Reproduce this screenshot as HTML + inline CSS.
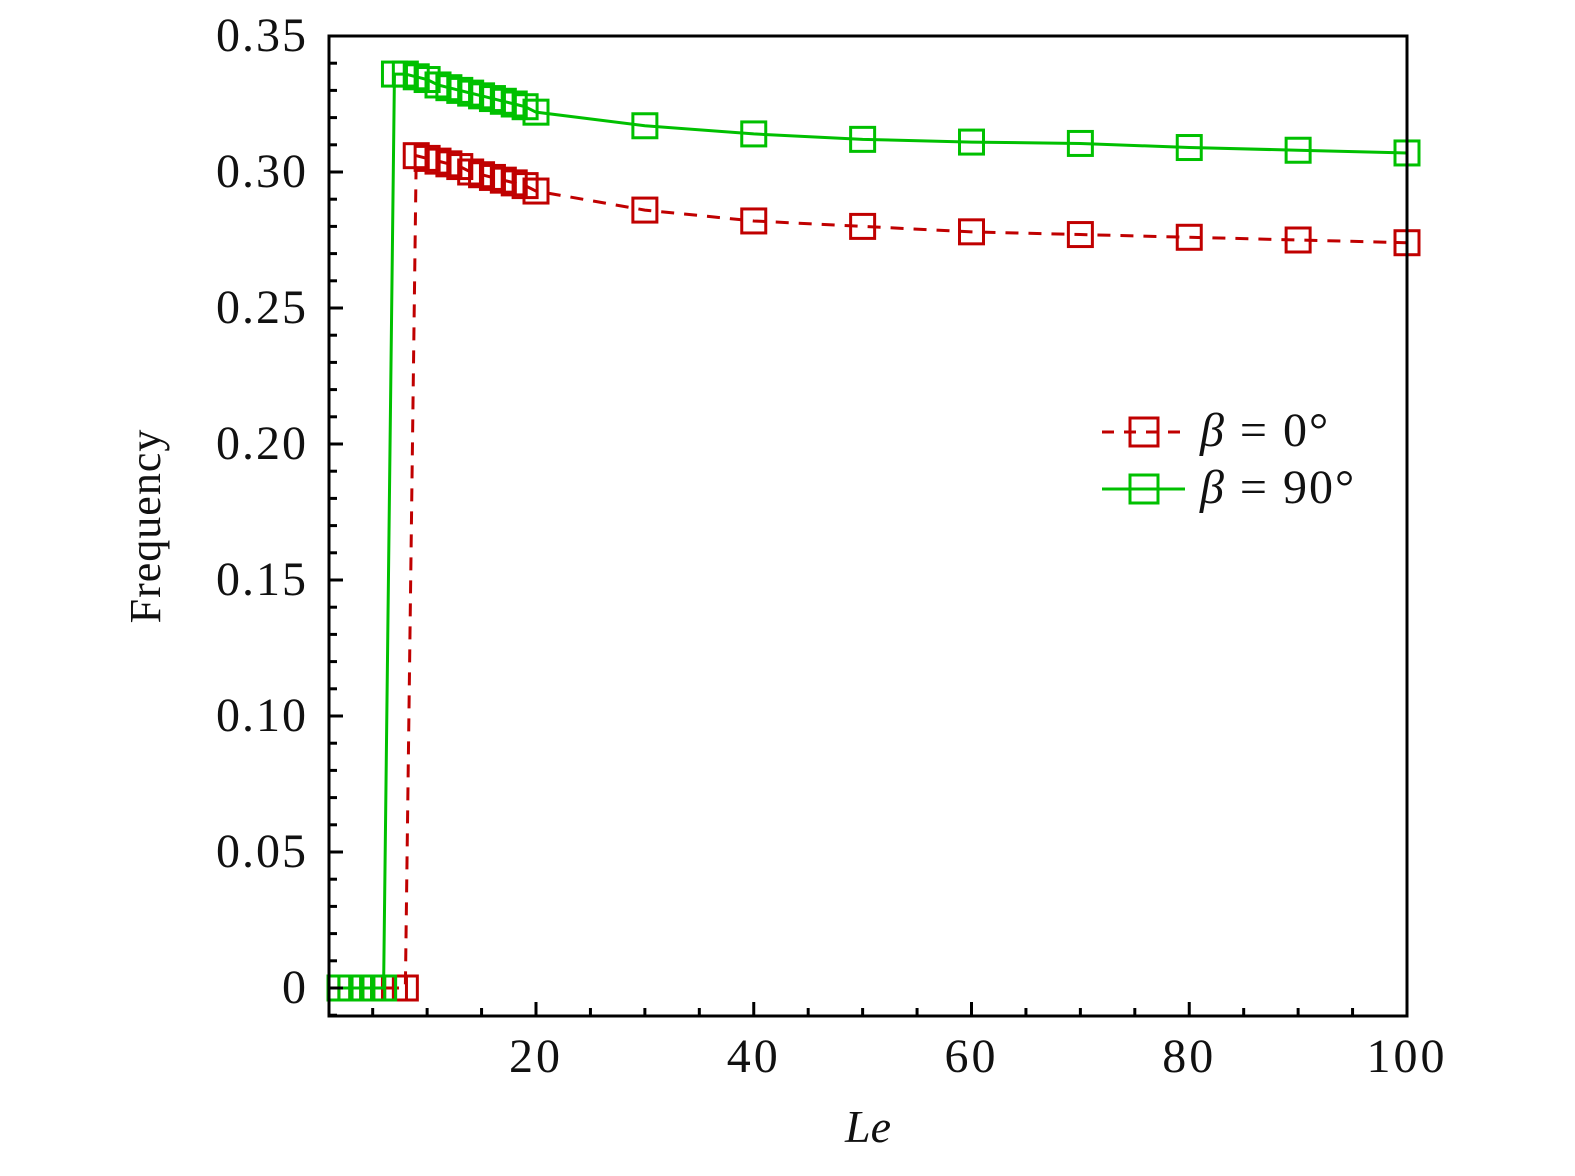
<!DOCTYPE html>
<html><head><meta charset="utf-8"><style>
body{margin:0;background:#fff;}
svg text{font-family:"Liberation Serif","DejaVu Serif",serif;fill:#111;}
</style></head><body>
<svg id="chart" width="1575" height="1171" xmlns="http://www.w3.org/2000/svg">
<rect width="1575" height="1171" fill="#fff"/>
<g id="series"></g>
<rect x="329" y="36" width="1078" height="980" fill="none" stroke="#000" stroke-width="3"/>
<g id="ticks"></g>
<text transform="translate(160,526) rotate(-90)" text-anchor="middle" font-size="44" letter-spacing="1">Frequency</text>
<text x="868" y="1142" text-anchor="middle" font-size="46" font-style="italic">Le</text>
<g>
  <line x1="1102" y1="432" x2="1185" y2="432" stroke="#c00000" stroke-width="3" stroke-dasharray="12,10"/>
  <rect x="1130" y="418" width="28" height="28" fill="none" stroke="#c00000" stroke-width="3"/>
  <text x="1200" y="446" font-size="48" letter-spacing="2"><tspan font-style="italic">β</tspan> = 0°</text>
  <line x1="1102" y1="489" x2="1185" y2="489" stroke="#00c000" stroke-width="3"/>
  <rect x="1130" y="475" width="28" height="28" fill="none" stroke="#00c000" stroke-width="3"/>
  <text x="1200" y="503" font-size="48" letter-spacing="2"><tspan font-style="italic">β</tspan> = 90°</text>
</g>
</svg>
<script>
const redLe = [2,3,4,5,6,7,8,9,10,11,12,13,14,15,16,17,18,19,20,30,40,50,60,70,80,90,100];
const redFreq = [0,0,0,0,0,0,0,0.306,0.305,0.304,0.303,0.302,0.300,0.299,0.298,0.297,0.296,0.295,0.293,0.286,0.282,0.280,0.278,0.277,0.276,0.275,0.274];
const greenLe = [2,3,4,5,6,7,8,9,10,11,12,13,14,15,16,17,18,19,20,30,40,50,60,70,80,90,100];
const greenFreq = [0,0,0,0,0,0.336,0.336,0.335,0.334,0.332,0.331,0.330,0.329,0.328,0.327,0.326,0.325,0.324,0.322,0.317,0.314,0.312,0.311,0.3105,0.309,0.308,0.307];
const xTicks = [20,40,60,80,100];
const yTicks = [0,0.05,0.10,0.15,0.20,0.25,0.30,0.35];
const yTickLabels = ["0","0.05","0.10","0.15","0.20","0.25","0.30","0.35"];

const NS="http://www.w3.org/2000/svg";
function X(v){return 318.25+v*10.8875;}
function Y(v){return 988-v*2720;}
function mk(tag,attrs,parent){const e=document.createElementNS(NS,tag);for(const k in attrs)e.setAttribute(k,attrs[k]);parent.appendChild(e);return e;}
const ticks=document.getElementById('ticks'), series=document.getElementById('series');
for(let v=5;v<=100;v+=5){
  const major=v%20===0;
  const t=mk('line',{x1:X(v),x2:X(v),y1:1016,y2:1016-(major?14:8),stroke:'#000','stroke-width':3},ticks);
  
  
}
xTicks.forEach(v=>{
  const t=mk('text',{x:X(v),y:1072,'text-anchor':'middle','font-size':48,'letter-spacing':3},ticks);
  t.textContent=v;
  
  
});
for(let i=-1;i<=35;i++){
  const v=i/100, major=i%5===0;
  const t=mk('line',{x1:329,x2:329+(major?14:8),y1:Y(v),y2:Y(v),stroke:'#000','stroke-width':3},ticks);
  
  
}
yTicks.forEach((v,i)=>{
  const t=mk('text',{x:308,y:Y(v)+15,'text-anchor':'end','font-size':48,'letter-spacing':2},ticks);
  t.textContent=yTickLabels[i];
  
  
});
function drawSeries(xs,ys,color,dash,name){
  const pts=xs.map((x,i)=>X(x)+','+Y(ys[i])).join(' ');
  const pl=mk('polyline',{points:pts,fill:'none',stroke:color,'stroke-width':3,'stroke-dasharray':dash},series);
  
  
  xs.forEach((x,i)=>{
    const r=mk('rect',{x:X(x)-12,y:Y(ys[i])-12,width:24,height:24,fill:'none',stroke:color,'stroke-width':3},series);
    
    
  });
}
drawSeries(redLe,redFreq,'#c00000','13,10','beta-0');
drawSeries(greenLe,greenFreq,'#00c000','none','beta-90');
</script>
</body></html>
